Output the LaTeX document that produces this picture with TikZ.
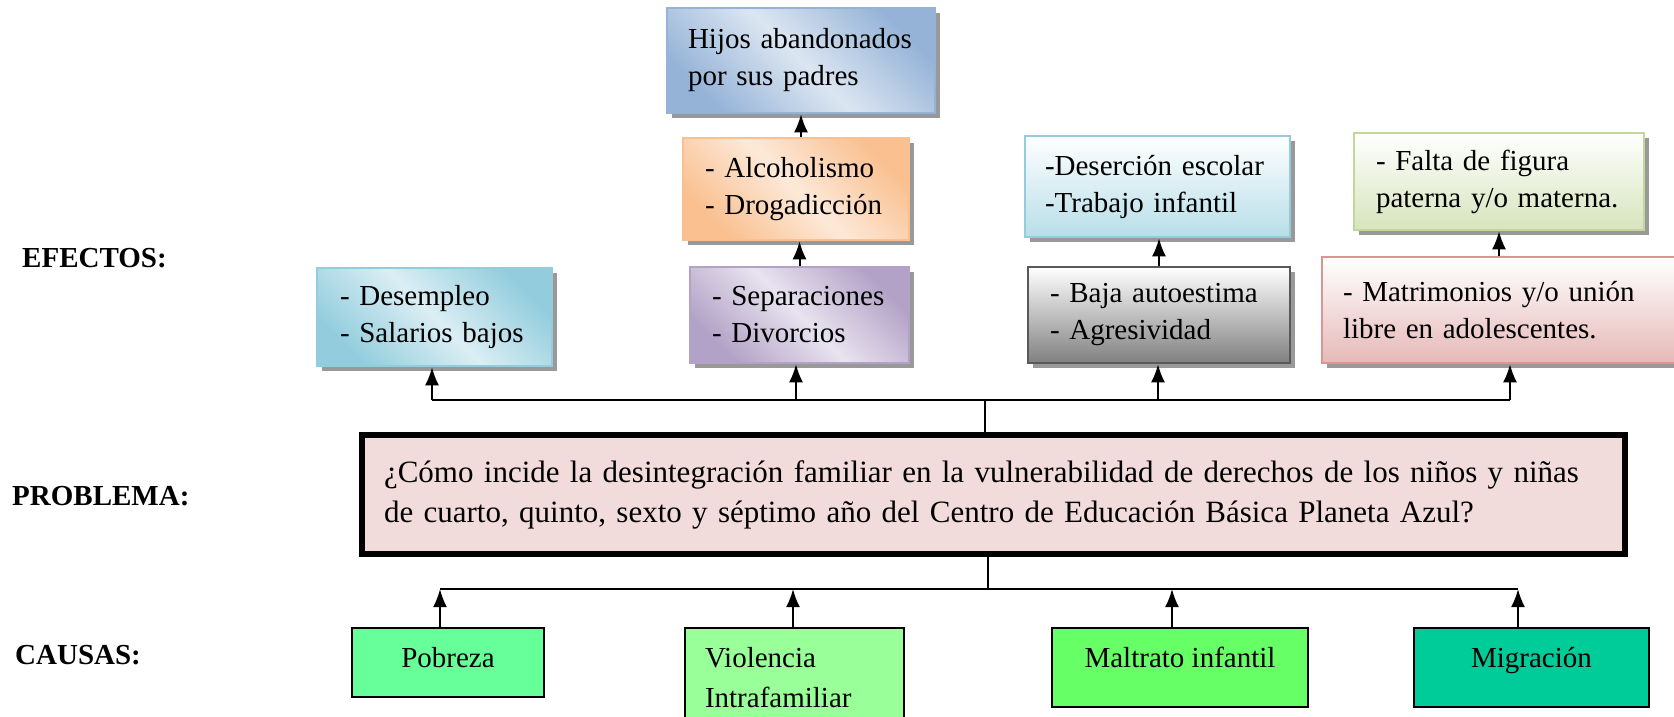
\documentclass[tikz,border=0pt]{standalone}
\usepackage{fontspec}
\setmainfont{Liberation Serif}
\usepackage{xcolor}
\usetikzlibrary{arrows.meta,shadows,positioning,calc}

\definecolor{azulA}{HTML}{95B3D7}
\definecolor{azulB}{HTML}{DCE6F2}
\definecolor{naranjaA}{HTML}{FAC090}
\definecolor{naranjaB}{HTML}{FDE9D9}
\definecolor{moradoA}{HTML}{B3A2C7}
\definecolor{moradoB}{HTML}{E8E3EF}
\definecolor{celesteA}{HTML}{93CDDD}
\definecolor{celesteB}{HTML}{DBEEF4}
\definecolor{celesteC}{HTML}{B7DEE8}
\definecolor{grisA}{HTML}{595959}
\definecolor{grisB}{HTML}{808080}
\definecolor{verdeA}{HTML}{C3D69B}
\definecolor{verdeB}{HTML}{D7E4BD}
\definecolor{rosaA}{HTML}{D99694}
\definecolor{rosaB}{HTML}{E6B9B8}
\definecolor{rosaC}{HTML}{F2DCDB}
\definecolor{verdeC}{HTML}{66FF99}
\definecolor{verdeD}{HTML}{99FF99}
\definecolor{verdeE}{HTML}{66FF66}
\definecolor{verdeF}{HTML}{00CC99}

\begin{document}
\begin{tikzpicture}[x=1pt,y=-1pt,
	efecto/.style={draw,line width=2.5pt,align=left,inner sep=0pt,font=\fontsize{29}{37}\selectfont,
		drop shadow={shadow xshift=5pt,shadow yshift=-5pt,fill=black,opacity=.4}},
	diag/.style 2 args={left color=#1,right color=#1,middle color=#2,shading angle=135},
	causa/.style={draw=black,line width=2pt,inner sep=0pt,text height=39pt,font=\fontsize{29}{40}\selectfont},
	linea/.style={line width=2pt},
	flecha/.style={line width=2pt,-{Latex[length=18pt,width=14pt]}},
	titulo/.style={anchor=base west,inner sep=0pt,font=\bfseries\fontsize{29}{35}\selectfont}]
		\useasboundingbox (0,0) rectangle (1674,716);
		\clip (0,0) rectangle (1674,716);
		\node[titulo] (efectos) at (22,267) {EFECTOS:};
		\node[titulo] (problem) at (12,505) {PROBLEMA:};
		\node[titulo] (causas) at (15,664) {CAUSAS:};
		\node[efecto,draw=azulA,diag={azulA}{azulB},minimum width=268pt,minimum height=105pt,text width=226pt] (hijos) at (801,60.5) {Hijos abandonados\\por sus padres};
		\node[efecto,draw=naranjaA,diag={naranjaA}{naranjaB},minimum width=226pt,minimum height=102pt,text width=182pt] (alcohol) at (796,189) {- Alcoholismo\\- Drogadicción};
		\node[efecto,draw=moradoA,diag={moradoA}{moradoB},minimum width=219pt,minimum height=96pt,text width=175pt] (separa) at (799.5,315) {- Separaciones\\- Divorcios};
		\node[efecto,draw=celesteA,diag={celesteA}{celesteB},minimum width=235pt,minimum height=98pt,text width=189pt] (desempleo) at (434.5,317) {- Desempleo\\- Salarios bajos};
		\node[efecto,draw=celesteA,top color=white,bottom color=celesteC,minimum width=265pt,minimum height=101pt,text width=225pt] (desercion) at (1157.5,186.5) {-Deserción escolar\\-Trabajo infantil};
		\node[efecto,draw=grisA,top color=white,bottom color=grisB,minimum width=262pt,minimum height=96pt,text width=218pt] (baja) at (1159,315) {- Baja autoestima\\- Agresividad};
		\node[efecto,draw=verdeA,top color=white,bottom color=verdeB,minimum width=290pt,minimum height=97pt,text width=246pt] (falta) at (1499,181.5) {- Falta de figura\\paterna y/o materna.};
		\node[efecto,draw=rosaA,top color=white,bottom color=rosaB,minimum width=376pt,minimum height=106pt,text width=334pt] (matrimonio) at (1510,310) {- Matrimonios y/o unión\\libre en adolescentes.};
		\node[draw=black,line width=6pt,fill=rosaC,inner sep=0pt,align=left,minimum width=1263pt,minimum height=119pt,text width=1219pt,font=\fontsize{31}{40}\selectfont] (problema) at (993.5,494.5) {¿Cómo incide la desintegración familiar en la vulnerabilidad de derechos de los niños y niñas\\de cuarto, quinto, sexto y séptimo año del Centro de Educación Básica Planeta Azul?};
		\node[causa,fill=verdeC,minimum width=192pt,text depth=30pt] (pobreza) at (448,662.5) {Pobreza};
		\node[causa,fill=verdeD,minimum width=219pt,text width=179pt,align=left,text depth=73pt] (violencia) at (794.5,684) {Violencia\\Intrafamiliar};
		\node[causa,fill=verdeE,minimum width=256pt,text depth=40pt] (maltrato) at (1180,667.5) {Maltrato infantil};
		\node[causa,fill=verdeF,minimum width=235pt,text depth=40pt] (migracion) at (1531.5,667.5) {Migración};
		\coordinate (ea) at (432,400);
		\coordinate (eb) at (796,400);
		\coordinate (ec) at (1158,400);
		\coordinate (ed) at (1510,400);
		\coordinate (et) at (985,400);
		\draw[linea] (ea) -- (ed);
		\draw[linea] (problema.north -| et) -- (et);
		\draw[flecha] (ea) -- (ea |- desempleo.south);
		\draw[flecha] (eb) -- (eb |- separa.south);
		\draw[flecha] (ec) -- (ec |- baja.south);
		\draw[flecha] (ed) -- (ed |- matrimonio.south);
		\draw[flecha] (separa.north) -- (separa.north |- alcohol.south);
		\draw[flecha] (alcohol.north -| hijos.south) -- (hijos.south);
		\draw[flecha] (baja.north) -- (baja.north |- desercion.south);
		\draw[flecha] (matrimonio.north -| falta.south) -- (falta.south);
		\coordinate (ca) at (440,589);
		\coordinate (cb) at (793,589);
		\coordinate (cc) at (1172,589);
		\coordinate (cd) at (1518,589);
		\coordinate (ct) at (988,589);
		\draw[linea] (ca) -- (cd);
		\draw[linea] (problema.south -| ct) -- (ct);
		\draw[flecha] (pobreza.north -| ca) -- (ca);
		\draw[flecha] (violencia.north -| cb) -- (cb);
		\draw[flecha] (maltrato.north -| cc) -- (cc);
		\draw[flecha] (migracion.north -| cd) -- (cd);
	\end{tikzpicture}
\end{document}
